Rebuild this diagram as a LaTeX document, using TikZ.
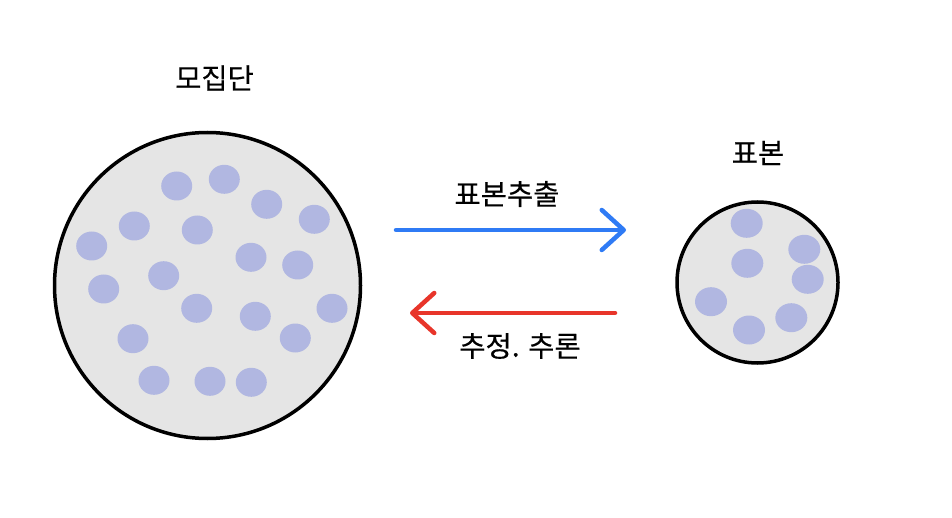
\documentclass[tikz,border=0pt]{standalone}
\usepackage{fontspec}
\setmainfont[FakeBold=0.4]{Noto Sans CJK KR}
\usepackage{xcolor}
\usetikzlibrary{positioning, arrows.meta}
\definecolor{blobc}{RGB}{177,183,225}
\definecolor{setfill}{RGB}{229,229,229}
\definecolor{drawblue}{RGB}{47,123,245}
\definecolor{drawred}{RGB}{232,53,42}

\begin{document}
\begin{tikzpicture}[x=1pt, y=-1pt,
  every node/.style={font=\fontsize{28.5}{34}\selectfont},
  setcircle/.style={circle, draw=black, line width=3.5pt, fill=setfill, inner sep=0pt},
  blob/.style={fill=blobc},
  flow/.style={line width=4.5pt, line cap=round,
    -{Straight Barb[length=22pt, width=40pt, round]}}]
\useasboundingbox (0,0) rectangle (952,518);

% Population and sample
\node[setcircle, minimum size=306pt] (pop) at (207.5,285.5) {};
\node[setcircle, minimum size=161pt] (smp) at (757.5,282.5) {};
\node (poplab) at (214.5,78) {모집단};
\node (smplab) at (758,153) {표본};

% Units in the population
\foreach \x/\y in {176.7/186, 224.3/179.3, 266.7/204.3, 314.3/219.3,
  134.3/226, 197.3/230, 91.7/246, 251/257.3, 297.7/265, 163.7/275.7,
  103.7/289, 196.7/308.3, 255.3/316.3, 332/308.3, 133/338.7,
  295.3/338, 154/380.3, 210/381.3, 251.3/382.3} {
  \fill[blob] (\x,\y) ellipse (15.5pt and 14.5pt);
}

% Units in the sample
\foreach \x/\y in {746.7/223.3, 747.3/263.3, 804.3/249.3, 807.7/279.3,
  711/301.7, 791.3/317.7, 749/330} {
  \fill[blob] (\x,\y) ellipse (16pt and 14.5pt);
}

% Arrows
\coordinate (sampstart) at (396,230);
\coordinate (sampend) at (626,230);
\coordinate (inferstart) at (615,313);
\coordinate (inferend) at (410,313);
\draw[flow, drawblue] (sampstart) -- (sampend);
\draw[flow, drawred] (inferstart) -- (inferend);
\node (samplab) at (507,194) {표본추출};
\node (inferlab) at (520,346) {추정. 추론};

\end{tikzpicture}
\end{document}
